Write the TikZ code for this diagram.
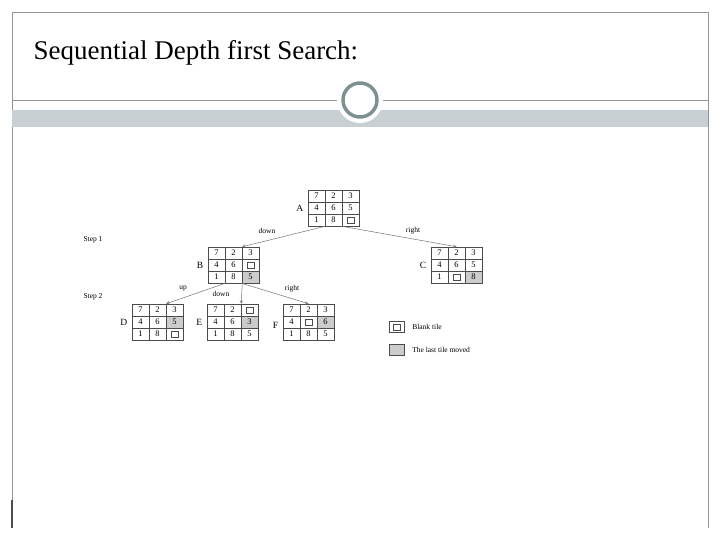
\documentclass[tikz,border=0pt]{standalone}
\usepackage{fontspec}
\setmainfont{Liberation Serif}
\usepackage{tikz}
\usetikzlibrary{calc}
\usetikzlibrary{positioning}
\definecolor{framegrey}{RGB}{140,150,155}
\definecolor{bandgrey}{RGB}{200,208,212}
\definecolor{ringgrey}{RGB}{125,145,145}
\tikzset{
	cell/.style={draw=black!70, line width=0.5pt, minimum width=17pt, minimum height=12pt, inner sep=0pt, font=\fontsize{8.5}{9}\selectfont},
	lastmoved/.style={fill=black!20},
	board/.style={draw=black!70, line width=0.5pt, minimum width=51pt, minimum height=36pt, inner sep=0pt, anchor=north west},
	blanksq/.style={draw=black!70, line width=0.4pt, minimum width=7pt, minimum height=5.5pt, inner sep=0pt},
	move/.style={->, >=stealth, draw=black!55, line width=0.5pt},
	movelabel/.style={font=\fontsize{7.5}{8}\selectfont},
	boardlabel/.style={font=\fontsize{9.5}{10}\selectfont},
}
% #1 name, #2 top-left, #3 entries (b = blank), #4 index of the last tile moved
\newcommand{\puzzleboard}[4]{
	\node[board] (#1) at (#2) {};
	\foreach \v [count=\i from 0] in {#3} {
		\pgfmathtruncatemacro{\col}{mod(\i,3)}
		\pgfmathtruncatemacro{\row}{int(\i/3)}
		\ifnum\i=#4 \def\cellstyle{lastmoved}\else \def\cellstyle{}\fi
		\node[cell, \cellstyle] (#1-\i) at ($(#1.north west)+(8.5+17*\col, 6+12*\row)$) {\if b\v\tikz\node[blanksq]{};\else\v\fi};
	}
}
\begin{document}
\begin{tikzpicture}[x=1pt, y=-1pt]
	\useasboundingbox (0,0) rectangle (720,540);
	% slide frame
	\draw[framegrey, line width=0.6pt] (12,528) -- (12,12) -- (708,12) -- (708,528);
	\fill[bandgrey] (12,110) rectangle (708,127);
	\draw[framegrey, line width=0.6pt] (12,100) -- (708,100);
	\fill[white] (360,100) circle (23);
	\draw[ringgrey, line width=3.5pt] (360,100) circle (17);
	\fill[black!70] (10.5,500) rectangle (13,528);
	\node[anchor=west, font=\fontsize{27}{30}\selectfont] (title) at (30,53) {Sequential Depth first Search:};
	% boards
	\puzzleboard{A}{308,190}{7,2,3,4,6,5,1,8,b}{-1}
	\puzzleboard{B}{208,247}{7,2,3,4,6,b,1,8,5}{8}
	\puzzleboard{C}{431,247}{7,2,3,4,6,5,1,b,8}{8}
	\puzzleboard{D}{132,304}{7,2,3,4,6,5,1,8,b}{5}
	\puzzleboard{E}{207,304}{7,2,b,4,6,3,1,8,5}{5}
	\puzzleboard{F}{283,304}{7,2,3,4,b,6,1,8,5}{5}
	\node[boardlabel, left=1pt of A-3] (labA) {A};
	\node[boardlabel, left=1pt of B-3] (labB) {B};
	\node[boardlabel, left=1pt of C-3] (labC) {C};
	\node[boardlabel, left=1pt of D-3] (labD) {D};
	\node[boardlabel, left=1pt of E-3] (labE) {E};
	\node[boardlabel, left=1pt of F-3, yshift=-3pt] (labF) {F};
	\node[movelabel] (step1) at (93,240) {Step 1};
	\node[movelabel] (step2) at (93,297) {Step 2};
	% moves
	\draw[move] (A-6.south east) -- (B-1.north east);
	\draw[move] (A-8.south west) -- (C-1.north);
	\draw[move] (B-6.south east) -- (D-1.north east);
	\draw[move] (B-7.south east) -- (E-1.north east);
	\draw[move] (B-8.south west) -- (F-1.north);
	\node[movelabel] (lab-down1) at (267,231) {down};
	\node[movelabel] (lab-right1) at (413,231) {right};
	\node[movelabel] (lab-up) at (183,289) {up};
	\node[movelabel] (lab-down2) at (221,294) {down};
	\node[movelabel] (lab-right2) at (292,289) {right};
	% legend
	\node[cell, minimum width=15pt, minimum height=11pt] (blank) at (397,327) {\tikz\node[blanksq]{};};
	\node[movelabel, right=4pt of blank] (blanktxt) {Blank tile};
	\node[cell, lastmoved, minimum width=15pt, minimum height=11pt] (moved) at (397,350) {};
	\node[movelabel, right=4pt of moved] (movedtxt) {The last tile moved};
\end{tikzpicture}
\end{document}
